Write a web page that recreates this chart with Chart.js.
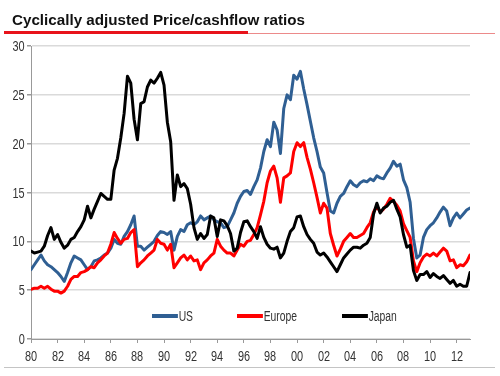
<!DOCTYPE html>
<html>
<head>
<meta charset="utf-8">
<script src="https://cdn.jsdelivr.net/npm/chart.js@4.4.1/dist/chart.umd.min.js"></script>
<style>
  html, body { margin: 0; padding: 0; background: #fff; }
  #wrap { position: relative; width: 500px; height: 376px; overflow: hidden; }
  #title {
    position: absolute; left: 12px; top: 11px; line-height: 15px;
    font: bold 15.2px "Liberation Sans", Arial, sans-serif; color: #111; white-space: nowrap;
  }
  #barThick { position: absolute; left: 4px; top: 31px; width: 244px; height: 3px; background: #e8131b; }
  #barThin { position: absolute; left: 248px; top: 33px; width: 247px; height: 1px; background: #ec8a8a; }
  #bottomLine { position: absolute; left: 4px; top: 367px; width: 491px; height: 1px; background: #c4c4c4; }
  canvas { position: absolute; left: 0; top: 0; }
  .narrow { position: absolute; white-space: nowrap; line-height: 16px; height: 16px;
    font: 14px "Liberation Sans", Arial, sans-serif; color: #333; }
  .xtick { transform: translateX(-50%) scaleX(0.78); }
  .ytick { transform-origin: right center; transform: scaleX(0.78); text-align: right; }
  .item { transform-origin: left center; transform: scaleX(0.74); }
  .item span.sw { display: inline-block; width: 35px; height: 4px; vertical-align: middle; margin-right: 1px; position: relative; top: -1px; }
</style>
</head>
<body>
<div id="wrap">
  <canvas id="ratioChart" width="500" height="376"></canvas>
  <div id="title">Cyclically adjusted Price/cashflow ratios</div>
  <div id="barThick"></div>
  <div id="barThin"></div>
  <div id="bottomLine"></div>
  <div id="labels"></div>
</div>
<script>
  // quarterly observations, 1980 Q1 .. 2013 Q1
  var quarters = Array.from({ length: 133 }, function (_, i) { return 1980 + i / 4; });

  var tickYears = [1980, 1982, 1984, 1986, 1988, 1990, 1992, 1994, 1996, 1998, 2000, 2002, 2004, 2006, 2008, 2010, 2012];
  var tickLabels = ['80', '82', '84', '86', '88', '90', '92', '94', '96', '98', '00', '02', '04', '06', '08', '10', '12'];
  var yTickValues = [0, 5, 10, 15, 20, 25, 30];

  var usValues = [
    7.1, 7.6, 8.1, 8.6, 8.0, 7.6, 7.4, 7.1, 6.8, 6.4, 5.9, 6.8, 7.8, 8.5, 8.3, 8.1,
    7.6, 7.1, 7.4, 8.0, 8.1, 8.3, 8.6, 8.8, 9.3, 10.2, 9.8, 9.7, 10.5, 11.0, 11.7, 12.6,
    9.5, 9.5, 9.1, 9.4, 9.7, 10.0, 10.6, 11.0, 10.9, 10.7, 11.0, 9.1, 10.5, 11.2, 11.0, 11.7,
    11.9, 11.7, 12.0, 12.6, 12.2, 12.4, 12.6, 12.2, 12.0, 11.9, 11.4, 11.5, 12.2, 12.9, 13.9, 14.6,
    15.1, 15.2, 14.8, 15.6, 16.3, 17.5, 19.2, 20.4, 19.7, 22.2, 21.4, 19.0, 23.6, 25.0, 24.5, 27.0,
    26.6, 27.4, 25.6, 24.0, 22.3, 20.6, 19.2, 17.6, 17.0, 15.0, 13.1, 12.9, 13.9, 14.6, 14.9, 15.6,
    16.2, 15.8, 15.6, 16.0, 16.2, 16.1, 16.4, 16.2, 16.7, 16.5, 16.4, 17.0, 17.5, 18.2, 17.7, 17.9,
    16.3, 15.5, 14.0, 10.3, 8.3, 8.6, 10.4, 11.2, 11.6, 11.9, 12.4, 13.0, 13.5, 13.1, 11.6, 12.4,
    12.9, 12.4, 12.8, 13.2, 13.4
  ];

  var europeValues = [
    5.1, 5.2, 5.2, 5.4, 5.2, 5.4, 5.1, 4.9, 4.9, 4.7, 4.9, 5.4, 6.1, 6.4, 6.4, 6.8,
    6.9, 7.1, 7.4, 7.3, 7.8, 8.1, 8.5, 8.8, 9.7, 10.9, 10.3, 9.8, 10.2, 10.3, 10.9, 11.2,
    7.4, 7.8, 8.1, 8.5, 8.8, 9.1, 10.2, 9.8, 9.7, 9.1, 9.7, 7.3, 7.8, 8.3, 8.6, 8.1,
    8.5, 8.0, 8.1, 7.1, 7.8, 8.1, 8.5, 8.8, 10.2, 9.5, 9.1, 8.8, 8.8, 8.5, 9.1, 9.7,
    9.5, 10.0, 10.1, 10.7, 11.4, 12.7, 14.1, 16.0, 17.2, 17.7, 16.5, 14.0, 16.5, 16.7, 17.0, 19.2,
    20.1, 19.7, 20.1, 18.6, 17.4, 16.0, 14.5, 12.9, 13.9, 13.4, 10.8, 9.6, 8.5, 9.2, 10.0, 10.4,
    10.8, 10.4, 10.4, 10.6, 10.8, 11.4, 11.9, 13.0, 13.6, 13.0, 13.3, 13.8, 14.4, 14.1, 13.7, 13.1,
    11.8, 11.1, 10.4, 8.0, 6.9, 7.8, 8.4, 8.7, 8.5, 8.8, 8.5, 8.9, 9.3, 9.0, 8.0, 8.1,
    7.3, 7.6, 7.5, 7.9, 8.6
  ];

  var japanValues = [
    9.0, 8.8, 8.9, 9.0, 9.5, 10.6, 11.4, 10.2, 10.7, 9.9, 9.3, 9.6, 10.2, 10.4, 11.0, 11.5,
    12.2, 13.6, 12.4, 13.3, 14.1, 14.9, 14.6, 14.3, 14.3, 17.3, 18.5, 20.6, 23.1, 26.9, 26.2, 22.5,
    20.4, 24.1, 24.3, 25.8, 26.5, 26.2, 26.7, 27.3, 26.0, 22.2, 20.2, 14.2, 16.8, 15.6, 15.9, 15.4,
    13.8, 11.4, 10.2, 10.8, 10.3, 10.7, 12.6, 12.4, 10.5, 12.2, 12.1, 11.6, 10.8, 9.0, 9.3, 10.9,
    12.0, 12.1, 11.5, 11.0, 10.3, 11.5, 10.4, 9.7, 9.3, 9.2, 9.4, 8.3, 8.8, 10.0, 11.0, 11.4,
    12.5, 12.6, 11.5, 10.7, 10.2, 9.8, 8.9, 8.6, 8.8, 8.4, 7.9, 7.4, 6.9, 7.6, 8.3, 8.7,
    9.1, 9.4, 9.4, 9.3, 9.6, 9.8, 10.4, 12.8, 13.9, 12.9, 13.4, 13.6, 14.0, 14.2, 13.3, 12.5,
    10.7, 9.4, 9.6, 7.0, 6.0, 6.6, 6.6, 6.9, 6.3, 6.7, 6.4, 6.2, 6.5, 6.1, 5.7, 6.0,
    5.4, 5.6, 5.4, 5.4, 6.8
  ];

  var seriesNames = ['US', 'Europe', 'Japan'];
  var seriesColors = ['#2f5f93', '#ff0000', '#000000'];

  function toPoints(values) {
    return values.map(function (v, i) { return { x: quarters[i], y: v }; });
  }

  var chart = new Chart(document.getElementById('ratioChart'), {
    type: 'line',
    data: {
      datasets: [
        { label: seriesNames[0], data: toPoints(usValues), borderColor: seriesColors[0], order: 3 },
        { label: seriesNames[1], data: toPoints(europeValues), borderColor: seriesColors[1], order: 2 },
        { label: seriesNames[2], data: toPoints(japanValues), borderColor: seriesColors[2], order: 1 }
      ]
    },
    options: {
      responsive: false,
      animation: false,
      layout: { padding: { left: 0, right: 30, top: 46, bottom: 9 } },
      elements: {
        line: { borderWidth: 3, tension: 0, borderJoinStyle: 'round', borderCapStyle: 'round' },
        point: { radius: 0 }
      },
      plugins: { legend: { display: false }, tooltip: { enabled: false } },
      scales: {
        x: {
          type: 'linear',
          min: 1980,
          max: 2013,
          afterFit: function (s) { s.height = 28; },
          afterBuildTicks: function (s) { s.ticks = tickYears.map(function (y) { return { value: y }; }); },
          ticks: { display: false },
          grid: { drawOnChartArea: false, drawTicks: true, tickLength: 4, tickColor: '#999' },
          border: { color: '#999', width: 1 }
        },
        y: {
          min: 0,
          max: 30,
          afterFit: function (s) { s.width = 31; },
          afterBuildTicks: function (s) { s.ticks = yTickValues.map(function (v) { return { value: v }; }); },
          ticks: { display: false },
          grid: { color: '#dadada', lineWidth: 1.5, tickLength: 4, tickColor: '#999' },
          border: { color: '#999', width: 1 }
        }
      }
    }
  });

  // tick labels as narrow html text, placed through the chart's own scales
  var layer = document.getElementById('labels');
  function addLabel(cls, text, css) {
    var d = document.createElement('div');
    d.className = 'narrow ' + cls;
    d.textContent = text;
    Object.keys(css).forEach(function (k) { d.style[k] = css[k]; });
    layer.appendChild(d);
    return d;
  }
  tickYears.forEach(function (yr, i) {
    addLabel('xtick', tickLabels[i], { left: chart.scales.x.getPixelForValue(yr) + 'px', top: '348px' });
  });
  yTickValues.forEach(function (v) {
    addLabel('ytick', String(v), { right: (500 - 25) + 'px', top: (chart.scales.y.getPixelForValue(v) - 8) + 'px' });
  });

  // legend inside the plot, like the original
  var legendLeft = [152, 237, 342];
  chart.data.datasets.forEach(function (ds, i) {
    var item = addLabel('item', '', { left: legendLeft[i] + 'px', top: '308px' });
    item.innerHTML = '<span class="sw" style="background:' + ds.borderColor + '"></span>' + ds.label;
  });
</script>
</body>
</html>
